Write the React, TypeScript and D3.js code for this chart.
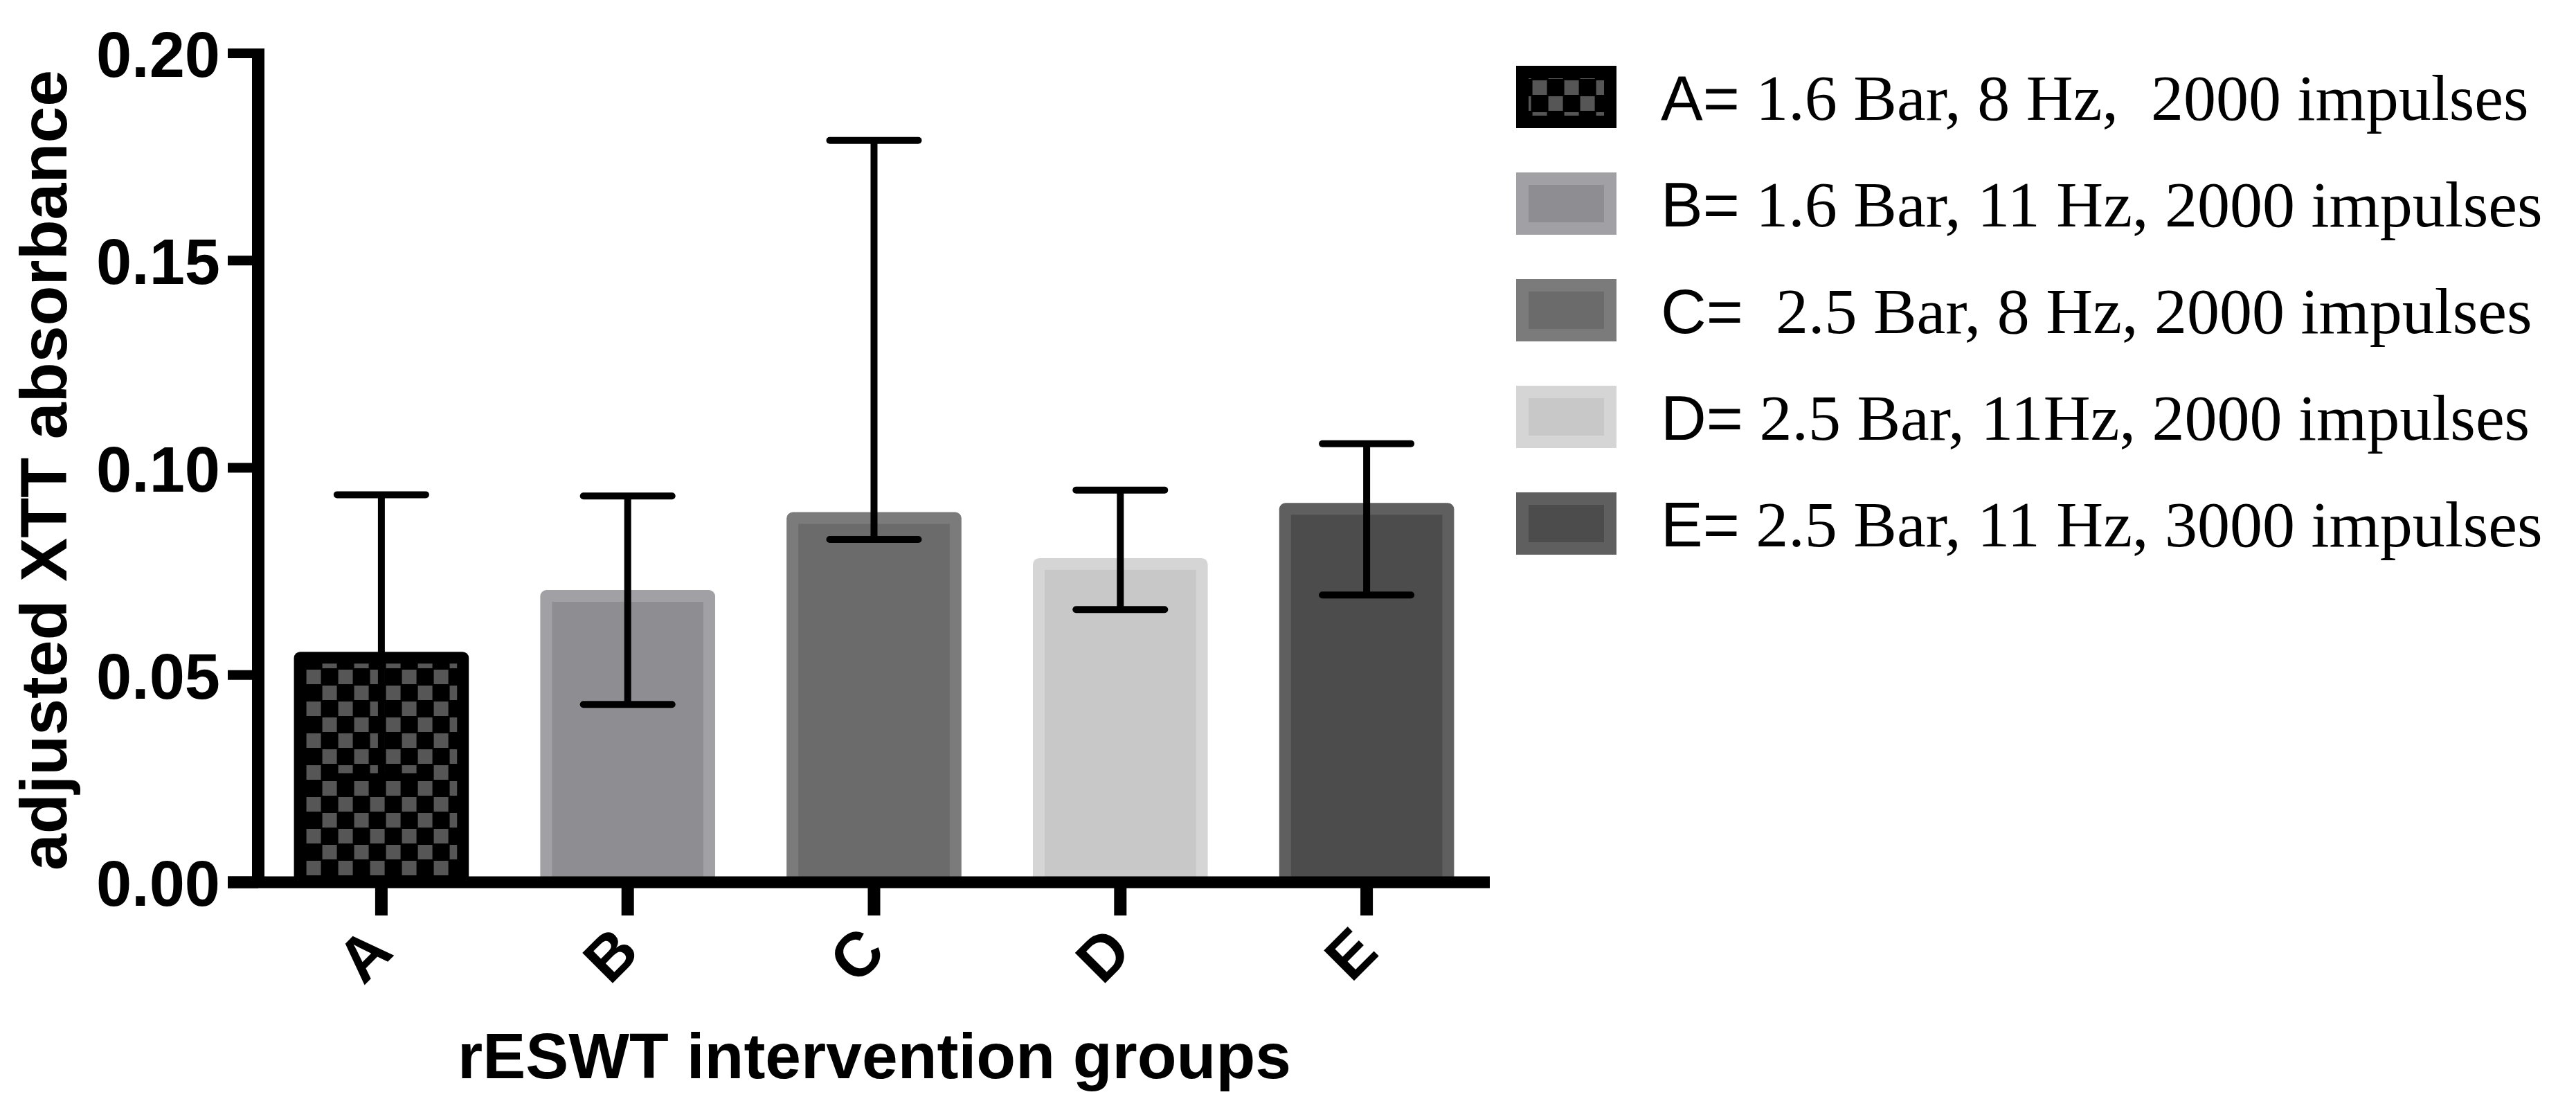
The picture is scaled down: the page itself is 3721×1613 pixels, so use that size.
import * as d3 from 'd3';

const groups = ['A', 'B', 'C', 'D', 'E'];
const means = [0.0556, 0.0705, 0.0893, 0.0782, 0.0915];
const errLow = [0.0255, 0.0429, 0.0827, 0.0658, 0.0693];
const errHigh = [0.0935, 0.0932, 0.179, 0.0946, 0.1058];
const yTicks = [0, 0.05, 0.1, 0.15, 0.2];
const legendKeys = ['A=', 'B=', 'C=', 'D=', 'E='];
const legendLabels = [
  ' 1.6 Bar, 8 Hz,  2000 impulses',
  ' 1.6 Bar, 11 Hz, 2000 impulses',
  '  2.5 Bar, 8 Hz, 2000 impulses',
  ' 2.5 Bar, 11Hz, 2000 impulses',
  ' 2.5 Bar, 11 Hz, 3000 impulses'
];
const outerColors = ['#000000', '#a1a1a5', '#7b7b7b', '#d5d5d5', '#5f5f5f'];
const innerColors = ['url(#checker)', '#8e8e92', '#6b6b6b', '#c8c8c8', '#4c4c4c'];

const W = 3721;
const H = 1613;
const SANS = '"Liberation Sans", Arial, Helvetica, sans-serif';
const SERIF = '"Liberation Serif", "Times New Roman", serif';

export default function App() {
  const x = d3.scaleBand<string>().domain(groups).range([373, 2152]).paddingInner(0.29).paddingOuter(0.145);
  const y = d3.scaleLinear().domain([0, 0.2]).range([1274, 77]);
  const legendY = d3.scalePoint<string>().domain(groups).range([140, 756]);
  const bw = x.bandwidth();
  const inset = 17;
  const capW = 128;

  return (
    <svg width={W} height={H} viewBox={`0 0 ${W} ${H}`} style={{ position: 'absolute', left: 0, top: 0, background: '#fff' }}>
      <defs>
        <pattern id="checker" patternUnits="userSpaceOnUse" width={46} height={46} x={x('A')! + inset} y={0}>
          <rect width={46} height={46} fill="#000" />
          <rect x={1} y={1} width={21} height={21} fill="#565656" />
          <rect x={24} y={24} width={21} height={21} fill="#565656" />
        </pattern>
      </defs>

      {/* bars */}
      {groups.map((g, i) => {
        const x0 = x(g)!;
        const top = y(means[i]);
        const h = y(0) - top;
        return (
          <g key={g}>
            <rect x={x0} y={top} width={bw} height={h} rx={9} fill={outerColors[i]} />
            <rect x={x0 + inset} y={top + inset} width={bw - 2 * inset} height={Math.max(0, h - inset)} fill={innerColors[i]} />
          </g>
        );
      })}

      {/* error bars */}
      {groups.map((g, i) => {
        const cx = x(g)! + bw / 2;
        return (
          <g key={`e-${g}`} stroke="#000" strokeWidth={10} strokeLinecap="round">
            <line x1={cx} x2={cx} y1={y(errLow[i])} y2={y(errHigh[i])} strokeLinecap="butt" />
            <line x1={cx - capW / 2} x2={cx + capW / 2} y1={y(errHigh[i])} y2={y(errHigh[i])} />
            <line x1={cx - capW / 2} x2={cx + capW / 2} y1={y(errLow[i])} y2={y(errLow[i])} />
          </g>
        );
      })}

      {/* y axis */}
      <line x1={373} x2={373} y1={y(0.2) - 7} y2={y(0) + 8} stroke="#000" strokeWidth={18} />
      {yTicks.map((t) => (
        <g key={t}>
          <line x1={329} x2={373} y1={y(t)} y2={y(t)} stroke="#000" strokeWidth={t === 0 ? 17 : 14} />
          <text x={318} y={y(t) + 34} textAnchor="end" fontFamily={SANS} fontWeight={700} fontSize={92}>
            {t.toFixed(2)}
          </text>
        </g>
      ))}
      <text transform="translate(96,679) rotate(-90)" textAnchor="middle" fontFamily={SANS} fontWeight={700} fontSize={95}>
        adjusted XTT absorbance
      </text>

      {/* x axis */}
      <line x1={329} x2={2152} y1={y(0)} y2={y(0)} stroke="#000" strokeWidth={17} />
      {groups.map((g) => {
        const cx = x(g)! + bw / 2;
        return (
          <g key={`t-${g}`}>
            <line x1={cx} x2={cx} y1={y(0)} y2={1322} stroke="#000" strokeWidth={18} />
            <text transform={`translate(${cx + 20},1378) rotate(-45)`} textAnchor="end" fontFamily={SANS} fontWeight={700} fontSize={90}>
              {g}
            </text>
          </g>
        );
      })}
      <text x={1263} y={1557} textAnchor="middle" fontFamily={SANS} fontWeight={700} fontSize={93}>
        rESWT intervention groups
      </text>

      {/* legend */}
      {groups.map((g, i) => {
        const cy = legendY(g)!;
        return (
          <g key={`l-${g}`}>
            <rect x={2190} y={cy - 45} width={145} height={90} fill={outerColors[i]} />
            <rect x={2190 + 18} y={cy - 45 + 18} width={145 - 36} height={90 - 36} fill={innerColors[i]} />
            <text x={2399} y={cy + 33} style={{ whiteSpace: 'pre' }}>
              <tspan fontFamily={SANS} fontSize={91}>{legendKeys[i]}</tspan>
              <tspan fontFamily={SERIF} fontSize={94}>{legendLabels[i]}</tspan>
            </text>
          </g>
        );
      })}
    </svg>
  );
}
